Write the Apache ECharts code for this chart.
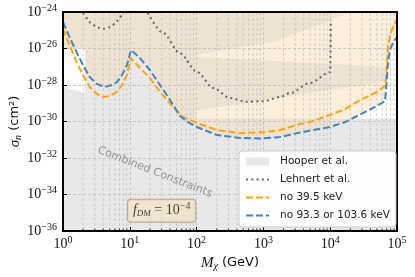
<!DOCTYPE html>
<html><head><meta charset="utf-8">
<script src="https://cdn.jsdelivr.net/npm/echarts@6/dist/echarts.min.js"></script>
<style>html,body{margin:0;padding:0;background:#fff}#c{width:415px;height:277px}#err{position:absolute;left:0;top:0;font:10px monospace;color:red;width:415px;white-space:pre-wrap}</style>
</head><body><div id="c"></div><div id="err"></div>
<script>
window.onerror = (m, s, l, c, e) => { document.getElementById('err').textContent += m + ' @' + l + ':' + c + '\n'; };
// ---- data (mass in GeV, cross-section in cm^2) ----
const massBlue  = [1, 1.27, 1.62, 2.06, 2.51, 3.23, 4.25, 5.42, 6.43, 7.64, 9.08, 10.4, 14.2, 20.0, 28.3, 40.0, 56.4, 74.3, 101, 202, 447, 986, 1774, 3186, 5530, 9930, 1.67e4, 2.52e4, 4.37e4, 6.61e4, 6.84e4, 7.08e4, 7.33e4, 7.85e4, 8.7e4, 1e5];
const sigmaBlue = [2.8e-25, 3.8e-26, 5.6e-27, 9.8e-28, 2.75e-28, 1.12e-28, 7.8e-29, 1.0e-28, 1.45e-28, 3.5e-28, 1.26e-27, 8.3e-27, 3.0e-27, 6.6e-28, 1.0e-28, 1.5e-29, 2.0e-30, 9.3e-31, 5.0e-31, 1.8e-31, 1.26e-31, 1.18e-31, 1.4e-31, 2.3e-31, 3.4e-31, 5.0e-31, 9.3e-31, 2.0e-30, 5.5e-30, 1.3e-29, 5.4e-29, 2.75e-28, 1.8e-27, 8.3e-27, 2.0e-26, 4.3e-26];
const massOrange  = [1, 1.27, 1.62, 2.06, 2.51, 3.23, 3.98, 5.05, 6.43, 7.64, 9.08, 10.4, 14.2, 20.0, 28.3, 44.3, 62.5, 101, 202, 447, 986, 1774, 3186, 5530, 9930, 1.67e4, 2.52e4, 5.02e4, 6.61e4, 6.84e4, 7.08e4, 7.33e4, 7.85e4, 8.7e4, 9.66e4];
const sigmaOrange = [1.2e-25, 1.38e-26, 1.6e-27, 2.75e-28, 7.8e-29, 3.2e-29, 2.2e-29, 2.5e-29, 4.2e-29, 1.0e-28, 3.5e-28, 3.0e-27, 8.5e-28, 2.4e-28, 4.2e-29, 6.2e-30, 1.8e-30, 8.3e-31, 3.4e-31, 2.3e-31, 2.6e-31, 3.4e-31, 6.5e-31, 1.07e-30, 2.3e-30, 4.8e-30, 1.2e-29, 4.2e-29, 9.0e-29, 2.4e-28, 1.8e-27, 1.2e-26, 5.5e-26, 1.5e-25, 3.2e-25];
const massLehnertA  = [2.0, 2.51, 3.24, 3.98, 5.0, 6.46, 7.94];
const sigmaLehnertA = [8.9e-25, 2.8e-25, 1.5e-25, 1.2e-25, 1.5e-25, 3.2e-25, 8.9e-25];
const massLehnertB  = [18.6, 31.6, 56, 102, 178, 316, 562, 1000, 1780, 2510, 5010, 1e4, 1.02e4];
const sigmaLehnertB = [8.9e-25, 7.1e-26, 5.6e-27, 5.1e-28, 6.9e-29, 1.95e-29, 1.2e-29, 1.3e-29, 2.2e-29, 3.6e-29, 1.3e-28, 5.1e-28, 3.6e-25];
// Hooper et al. (grey region outline)
const massHooper  = [1, 2.14, 2.14, 90, 90, 1e5, 1e5, 1];
const sigmaHooper = [7.9e-29, 3.6e-29, 1e-24, 1e-24, 1.4e-30, 1.4e-30, 1e-36, 1e-36];
// shaded exclusion regions (beige)
const massBandB   = [100, 7.1e4, 7.1e4, 100];
const sigmaBandB  = [3.4e-27, 1.0e-27, 1.6e-28, 4.0e-30];
const massDarkTop  = [100, 2.0e4, 1778, 100];
const sigmaDarkTop = [1e-24, 1e-24, 2.9e-26, 4.4e-27];
const massLeftEdge = 2.14, sigmaLeftEdge = 1e-26, sigmaLeftJoin = 6.3e-28;
const massOverGrey = [90, 2.3e4];
const sigmaGreyTop = 1.4e-30;
// axes (exponents)
const xMin = 1, xMax = 1e5, yMinExp = -36, yMaxExp = -24, yStep = 2;
const minorMults = [2, 3, 4, 5, 6, 7, 8, 9];
const decades = [1, 10, 100, 1000, 10000];

const lg = Math.log10;
const zipL = (a, b) => a.map((v, i) => [v, lg(b[i])]);
const blueIn = (lo, hi) => zipL(massBlue, sigmaBlue).filter(p => p[0] > lo && p[0] <= hi);

const C_GREY = '#e8e8e8', C_LIGHT = '#fbeedb', C_DARK = '#eee3d1';

function poly(name, pts, color, z) {
  return { type: 'custom', name, z, silent: true, clip: true,
    data: [[1, -30]],
    renderItem: (p, api) => ({ type: 'polygon', shape: { points: pts.map(q => api.coord(q)) }, style: { fill: color } }) };
}

const leftTail = [[massLeftEdge, lg(sigmaLeftJoin)], [massLeftEdge, lg(sigmaLeftEdge)], [xMin, lg(sigmaLeftEdge)]];
const beigeBase = [[xMin, yMaxExp], [xMax, yMaxExp]].concat(blueIn(massLeftEdge, xMax).reverse()).concat(leftTail);
const darkLeft = [[xMin, yMaxExp], [100, yMaxExp], [100, lg(5e-31)]].concat(blueIn(massLeftEdge, 99).reverse()).concat(leftTail);
const overGrey = [[massOverGrey[0], lg(sigmaGreyTop)], [massOverGrey[1], lg(sigmaGreyTop)]].concat(blueIn(massOverGrey[0], massOverGrey[1]).reverse());

const minorVals = [];
decades.forEach(d => minorMults.forEach(m => minorVals.push(d * m)));

const supTxt = e => String(e).replace('-', '\u2212');
const tickRich = {
  b: { fontFamily: 'Liberation Serif', fontSize: 14, color: '#111', lineHeight: 14 },
  s: { fontFamily: 'Liberation Serif', fontSize: 10, color: '#111', lineHeight: 10, padding: [0, 0, 8, 0] }
};
const xFmt = v => '{b|10}{s|' + supTxt(Math.round(lg(v))) + '}';
const yFmt = v => '{b|10}{s|' + supTxt(Math.round(v)) + '}';
const nameRich = {
  i: { fontFamily: 'Liberation Serif', fontStyle: 'italic', fontSize: 15, color: '#111' },
  sub: { fontFamily: 'Liberation Serif', fontStyle: 'italic', fontSize: 10, color: '#111', padding: [6, 0, 0, 0] },
  n: { fontFamily: 'DejaVu Sans', fontSize: 13, color: '#111' } };
const lineLegend = { itemStyle: { opacity: 0 } };
const gridLine = { show: true, lineStyle: { color: '#bdbdbd', width: 0.8, type: [3, 2] } };
const ticks = { inside: true, length: 4, lineStyle: { color: '#000', width: 1 } };

const chart = echarts.init(document.getElementById('c'));
chart.setOption({
  animation: false,
  backgroundColor: '#fff',
  grid: { left: 63, right: 18, top: 12, bottom: 46, outerBoundsMode: 'none', containLabel: false,
          show: true, borderColor: '#000', borderWidth: 2, z: 8 },
  xAxis: {
    type: 'log', logBase: 10, min: xMin, max: xMax, interval: 1, z: 3,
    axisLine: { show: false }, axisTick: ticks,
    axisLabel: { formatter: xFmt, rich: tickRich, margin: 6 },
    splitLine: gridLine,
    name: '{i|M}{sub|\u03c7}{n| (GeV)}', nameLocation: 'middle', nameGap: 24, nameMoveOverlap: false,
    nameTextStyle: { rich: nameRich }
  },
  yAxis: {
    type: 'value', min: yMinExp, max: yMaxExp, interval: yStep, z: 3,
    axisLine: { show: false }, axisTick: ticks,
    axisLabel: { formatter: yFmt, rich: tickRich, margin: 6 },
    splitLine: gridLine,
    name: '{i|\u03c3}{sub|n}{n| (cm\u00b2)}', nameLocation: 'middle', nameGap: 40, nameRotate: 90, nameMoveOverlap: false,
    nameTextStyle: { rich: nameRich }
  },
  legend: {
    orient: 'vertical', left: 239, top: 151, z: 10,
    backgroundColor: 'rgba(255,255,255,0.92)', borderColor: '#cccccc', borderWidth: 1, borderRadius: 3,
    padding: [4, 6, 5, 6], itemGap: 5, itemWidth: 23, itemHeight: 8,
    textStyle: { fontFamily: 'DejaVu Sans', fontSize: 10.5, color: '#222', lineHeight: 13, padding: [0, 0, 0, 6] },
    data: [
      { name: 'Hooper et al.', icon: 'rect', itemStyle: { color: C_GREY } },
      Object.assign({ name: 'Lehnert et al.' }, lineLegend),
      Object.assign({ name: 'no 39.5 keV' }, lineLegend),
      Object.assign({ name: 'no 93.3 or 103.6 keV' }, lineLegend)
    ]
  },
  series: [
    Object.assign(poly('Hooper et al.', zipL(massHooper, sigmaHooper), C_GREY, 1), { itemStyle: { color: C_GREY } }),
    poly('exclBase', beigeBase, C_LIGHT, 1),
    poly('exclDarkLeft', darkLeft, C_DARK, 1),
    poly('exclDarkTop', zipL(massDarkTop, sigmaDarkTop), C_DARK, 1),
    poly('exclBandB', zipL(massBandB, sigmaBandB), C_DARK, 1),
    poly('exclOverGrey', overGrey, C_DARK, 1),
    { type: 'custom', name: 'minorGrid', z: 4, silent: true, data: minorVals.map(v => [v, -30]),
      renderItem: (p, api) => {
        const v = api.value(0);
        const a = api.coord([v, yMinExp]), b = api.coord([v, yMaxExp]);
        return { type: 'group', children: [
          { type: 'line', shape: { x1: a[0], y1: a[1], x2: b[0], y2: b[1] }, style: { stroke: '#c4c4c4', lineWidth: 0.8, lineDash: [3, 2] } },
          { type: 'line', shape: { x1: a[0], y1: a[1], x2: a[0], y2: a[1] - 2.5 }, style: { stroke: '#000', lineWidth: 0.8 } }
        ] };
      } },
    { type: 'line', name: 'Lehnert et al.', z: 5, data: zipL(massLehnertA, sigmaLehnertA), symbol: 'none', smooth: 0.3,
      lineStyle: { color: '#666666', width: 2, type: [2, 3.3] }, itemStyle: { color: '#666666' } },
    { type: 'line', name: 'Lehnert et al.', z: 5, data: zipL(massLehnertB, sigmaLehnertB), symbol: 'none', smooth: 0.3, smoothMonotone: 'x',
      lineStyle: { color: '#666666', width: 2, type: [2, 3.3] }, itemStyle: { color: '#666666' } },
    { type: 'line', name: 'no 39.5 keV', z: 6, data: zipL(massOrange, sigmaOrange), symbol: 'none', smooth: false,
      lineStyle: { color: '#ffa500', width: 2, type: [7, 3] }, itemStyle: { color: '#ffa500' } },
    { type: 'line', name: 'no 93.3 or 103.6 keV', z: 6, data: zipL(massBlue, sigmaBlue), symbol: 'none', smooth: false,
      lineStyle: { color: '#3d85c6', width: 2, type: [7, 3] }, itemStyle: { color: '#3d85c6' } },
    { type: 'scatter', name: 'labels', z: 7, silent: true, symbolSize: 0,
      data: [
        { value: [23.8, lg(1.7e-33)], label: { show: true, position: 'inside', formatter: 'Combined Constraints', rotate: -21.4,
          fontFamily: 'DejaVu Sans', fontSize: 11, color: '#808080' } },
        { value: [30, lg(1.3e-35)], label: { show: true, position: 'inside',
          formatter: '{i|f}{sub|DM}{n| = 10}{sup|\u22124}',
          backgroundColor: '#f3e4c8', borderColor: '#a89880', borderWidth: 1, borderRadius: 3, padding: [2, 5, 2, 5],
          rich: {
            i: { fontFamily: 'Liberation Serif', fontStyle: 'italic', fontSize: 14, color: '#111' },
            sub: { fontFamily: 'Liberation Serif', fontStyle: 'italic', fontSize: 9, color: '#111', padding: [6, 0, 0, 0] },
            n: { fontFamily: 'Liberation Serif', fontSize: 14, color: '#111' },
            sup: { fontFamily: 'Liberation Serif', fontSize: 10, color: '#111', padding: [0, 0, 8, 0] } } } }
      ] }
  ]
});
</script></body></html>
